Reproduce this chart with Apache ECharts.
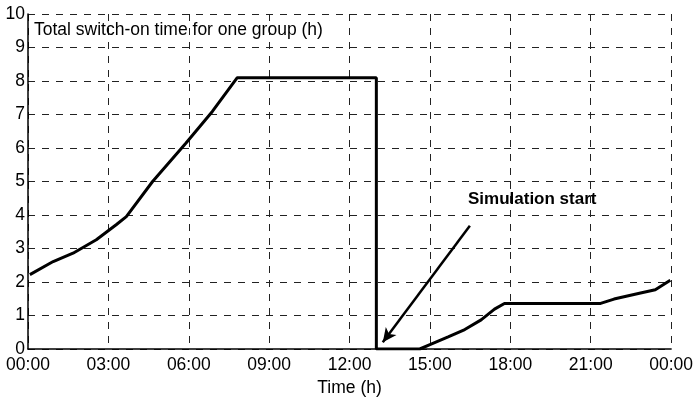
<!DOCTYPE html>
<html>
<head>
    <meta charset="utf-8">
    <title>Total switch-on time</title>
    <script src="https://cdn.jsdelivr.net/npm/echarts@6/dist/echarts.min.js"></script>
    <style>
        html, body { margin: 0; padding: 0; background: #fff; }
    </style>
</head>
<body>
    <div id="main" style="width: 696px;height:404px;"></div>
    <script type="text/javascript">
        // hours since midnight, switch-on time (h)
        var hours = [0.07, 0.94, 1.68, 2.55, 3.29, 3.67, 4.65, 5.89, 6.88, 7.81, 13.0, 13.0,
                     14.62, 15.0, 15.68, 16.3, 16.91, 17.41, 17.78, 21.37, 21.87, 22.86, 23.41, 23.97];
        var onTime = [2.22, 2.61, 2.86, 3.26, 3.71, 3.95, 5.0, 6.14, 7.09, 8.1, 8.1, 0,
                      0, 0.13, 0.36, 0.58, 0.87, 1.19, 1.36, 1.36, 1.49, 1.67, 1.77, 2.05];
        var xTicks = ['00:00', '03:00', '06:00', '09:00', '12:00', '15:00', '18:00', '21:00', '00:00'];
        var arrowFrom = [16.49, 3.68];
        var arrowTo = [13.24, 0.2];

        var font = "'Liberation Sans', Arial, sans-serif";
        var myChart = echarts.init(document.getElementById('main'));

        var points = [];
        for (i = 0; i < hours.length; i++) {
            points.push([hours[i], onTime[i]]);
        }

        var gridLine = { color: '#222', width: 1, type: [7, 7] };

        option = {
            animation: false,
            title: {
                text: 'Total switch-on time for one group (h)',
                left: 34,
                top: 21,
                padding: 0,
                textStyle: { fontFamily: font, fontSize: 17.5, fontWeight: 'normal', color: '#000' }
            },
            graphic: [{
                type: 'text',
                left: 468,
                top: 191,
                style: { text: 'Simulation start', font: 'bold 17px ' + font, fill: '#000' }
            }],
            grid: { left: 28, right: 22, top: 14, bottom: 55 },
            xAxis: {
                type: 'value',
                min: 0,
                max: 24,
                interval: 3,
                name: 'Time (h)',
                nameLocation: 'middle',
                nameGap: 30,
                nameTextStyle: { fontFamily: font, fontSize: 17.5, color: '#000' },
                axisLine: { lineStyle: { color: '#000', width: 1.5 } },
                axisTick: { show: false },
                axisLabel: {
                    margin: 7,
                    fontFamily: font,
                    fontSize: 17.5,
                    color: '#000',
                    formatter: function (v) { return xTicks[Math.round(v / 3)]; }
                },
                splitLine: { show: true, lineStyle: gridLine }
            },
            yAxis: {
                type: 'value',
                min: 0,
                max: 10,
                interval: 1,
                axisLine: { show: true, lineStyle: { color: '#000', width: 1.5 } },
                axisTick: { show: false },
                axisLabel: { margin: 3, fontFamily: font, fontSize: 17.5, color: '#000' },
                splitLine: { show: true, lineStyle: gridLine }
            },
            series: [{
                type: 'line',
                data: points,
                showSymbol: false,
                lineStyle: { color: '#000', width: 3 },
                markLine: {
                    silent: true,
                    symbol: ['none', 'arrow'],
                    symbolSize: [10, 14],
                    label: { show: false },
                    lineStyle: { color: '#000', width: 2.5, type: 'solid' },
                    data: [[{ coord: arrowFrom }, { coord: arrowTo }]]
                }
            }]
        };
        myChart.setOption(option);
    </script>
</body>
</html>
